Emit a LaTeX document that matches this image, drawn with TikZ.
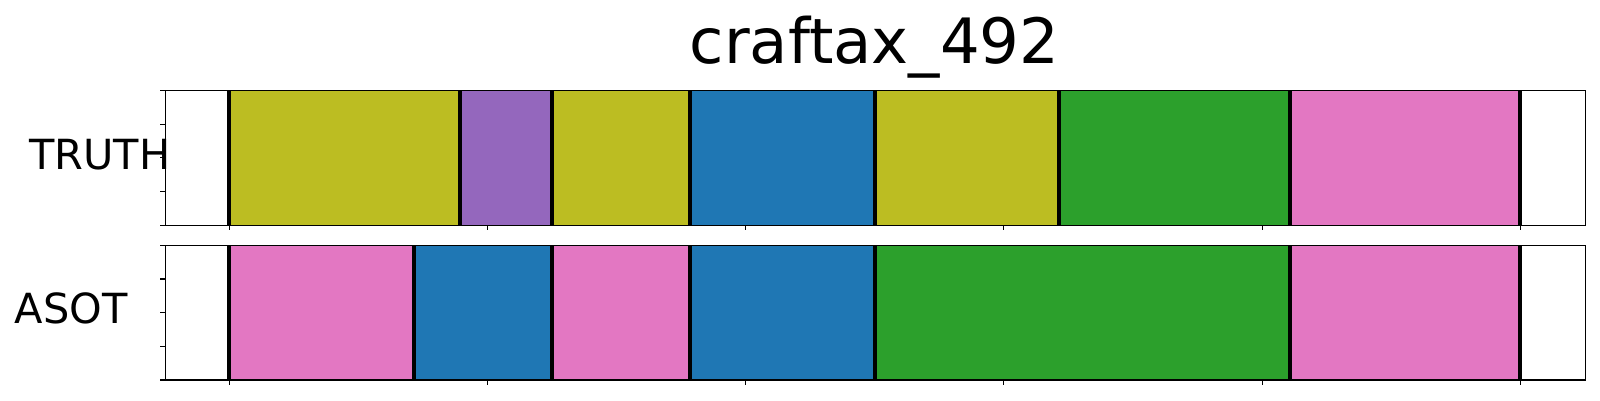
\documentclass[tikz,border=0pt]{standalone}
\usepackage{fontspec}
\setmainfont{DejaVu Sans}
\definecolor{tabolive}{HTML}{BCBD22}
\definecolor{tabpurple}{HTML}{9467BD}
\definecolor{tabblue}{HTML}{1F77B4}
\definecolor{tabgreen}{HTML}{2CA02C}
\definecolor{tabpink}{HTML}{E377C2}
\tikzset{
  frame/.style={draw=black, line width=1.1pt},
  tickline/.style={draw=black, line width=1.1pt},
  bound/.style={draw=black, line width=3.9pt},
  lab/.style={inner sep=0pt, anchor=base west, font=\fontsize{41.5}{48}\selectfont},
  ttl/.style={inner sep=0pt, anchor=base, font=\fontsize{62.5}{72}\selectfont}
}
\begin{document}
\begin{tikzpicture}[x=1pt,y=-1pt]
\useasboundingbox (0,0) rectangle (1600,400);
% TRUTH row segments (y 90.3 - 225.3)
\def\ta{90.3}\def\tb{225.3}
\fill[tabolive]  (229.3,\ta) rectangle (460,\tb);
\fill[tabpurple] (460,\ta) rectangle (552,\tb);
\fill[tabolive]  (552,\ta) rectangle (690,\tb);
\fill[tabblue]   (690,\ta) rectangle (874.7,\tb);
\fill[tabolive]  (874.7,\ta) rectangle (1058.7,\tb);
\fill[tabgreen]  (1058.7,\ta) rectangle (1290,\tb);
\fill[tabpink]   (1290,\ta) rectangle (1520.3,\tb);
\foreach \bx in {229.3,460,552,690,874.7,1058.7,1290,1520.3}
  \draw[bound] (\bx,\ta) -- (\bx,\tb);
% ASOT row segments (y 245.3 - 380)
\def\ba{245.3}\def\bb{380}
\fill[tabpink]  (229.3,\ba) rectangle (413.7,\bb);
\fill[tabblue]  (413.7,\ba) rectangle (552,\bb);
\fill[tabpink]  (552,\ba) rectangle (690,\bb);
\fill[tabblue]  (690,\ba) rectangle (874.7,\bb);
\fill[tabgreen] (874.7,\ba) rectangle (1290,\bb);
\fill[tabpink]  (1290,\ba) rectangle (1520.3,\bb);
\foreach \bx in {229.3,413.7,552,690,874.7,1290,1520.3}
  \draw[bound] (\bx,\ba) -- (\bx,\bb);
% frames
\draw[frame] (165.3,\ta) rectangle (1585.7,\tb);
\draw[frame] (165.3,\ba) rectangle (1585.7,\bb);
% ticks
\foreach \k in {0,...,5} {
  \draw[tickline] ({229.3+258.2*\k},\tb) -- ++(0,4.9);
  \draw[tickline] ({229.3+258.2*\k},\bb) -- ++(0,4.9);
}
\foreach \k in {0,...,4} {
  \draw[tickline] (165.3,{\ta+33.75*\k}) -- ++(-4.9,0);
  \draw[tickline] (165.3,{\ba+33.675*\k}) -- ++(-4.9,0);
}
% labels
\node[ttl] (title) at (874.5,63.3) {craftax\_492};
\node[lab] (truth) at (29,169.3) {TRUTH};
\node[lab] (asot) at (14.7,323.3) {ASOT};
\end{tikzpicture}
\end{document}
